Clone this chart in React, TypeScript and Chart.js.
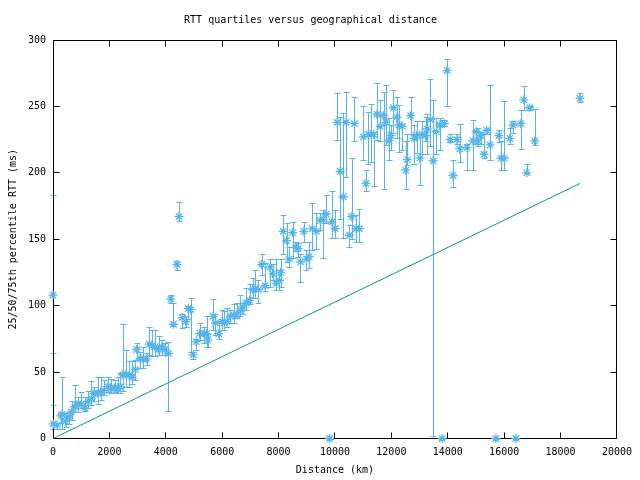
import React, { useEffect, useRef } from "react";
import { Chart, registerables } from "chart.js";

Chart.register(...registerables);

// Distance (km) of each measured host pair
const distanceKm = [
  0, 12, 150, 280, 330, 445, 563, 658, 774, 891,
  1010, 1126, 1243, 1362, 1454, 1595, 1690, 1806, 1947, 2042,
  2182, 2300, 2383, 2476, 2594, 2710, 2805, 2922, 2968, 3086,
  3203, 3320, 3414, 3509, 3626, 3742, 3861, 3978, 4094, 4178,
  4270, 4400, 4470, 4587, 4706, 4798, 4882, 4974, 5079, 5200,
  5350, 5445, 5491, 5678, 5762, 5878, 5994, 6079, 6171, 6290,
  6406, 6523, 6642, 6734, 6853, 6970, 7086, 7170, 7286, 7403,
  7522, 7698, 7790, 7909, 8026, 8072, 8166, 8283, 8378, 8494,
  8614, 8694, 8776, 8895, 8987, 9082, 9198, 9339, 9480, 9574,
  9690, 9810, 9891, 10008, 10080, 10185, 10290, 10395, 10513, 10596,
  10690, 10747, 10867, 11007, 11100, 11183, 11276, 11370, 11487, 11605,
  11722, 11803, 11922, 11979, 12074, 12190, 12275, 12390, 12508, 12566,
  12683, 12802, 12894, 13013, 13094, 13211, 13270, 13387, 13482, 13598,
  13717, 13800, 13880, 13974, 14090, 14186, 14326, 14421, 14680, 14890,
  15006, 15066, 15170, 15288, 15382, 15498, 15710, 15815, 15886, 16005,
  16202, 16322, 16414, 16590, 16695, 16800, 16906, 17082, 18691,
];

// 25th percentile RTT (ms)
const q1Ms = [
  64, 7, 7, 12, 7, 9, 11, 14, 20, 20,
  23, 21, 23, 25, 28, 26, 29, 33, 35, 34,
  35, 34, 34, 36, 39, 39, 41, 44, 59, 53,
  53, 55, 63, 62, 62, 63, 63, 63, 21, 102,
  85, 127, 164, 83, 84, 90, 65, 60, 67, 74,
  72, 69, 69, 82, 78, 75, 82, 82, 84, 87,
  87, 91, 92, 94, 97, 101, 106, 106, 102, 123,
  111, 114, 119, 112, 112, 114, 139, 133, 129, 136,
  141, 137, 118, 148, 127, 128, 142, 143, 157, 136,
  162, 0, 151, 151, 225, 165, 151, 197, 144, 150,
  224, 148, 148, 210, 186, 207, 208, 190, 225, 224,
  188, 221, 210, 217, 230, 226, 216, 217, 188, 206,
  229, 207, 215, 191, 214, 224, 214, 220, 2, 214,
  217, 0, 235, 250, 223, 189, 222, 208, 202, 202,
  222, 220, 222, 211, 229, 210, 0, 223, 202, 202,
  222, 230, 0, 218, 247, 200, 247, 221, 253,
];

// 50th percentile (median) RTT (ms)
const medianMs = [
  108, 11, 10, 17, 18, 13, 16, 20, 24, 26,
  26, 23, 28, 30, 34, 34, 35, 36, 39, 38,
  38, 37, 39, 48, 48, 48, 46, 52, 67, 60,
  60, 60, 71, 70, 69, 67, 69, 67, 64, 105,
  86, 131, 167, 91, 88, 98, 97, 63, 73, 79,
  79, 79, 74, 92, 87, 79, 88, 87, 88, 92,
  93, 93, 96, 99, 102, 104, 112, 113, 112, 131,
  115, 129, 124, 117, 119, 125, 156, 149, 135, 155,
  144, 143, 133, 156, 135, 137, 158, 156, 164, 165,
  169, 0, 163, 158, 238, 201, 182, 238, 153, 167,
  237, 158, 158, 227, 192, 229, 229, 229, 244, 235,
  243, 238, 224, 228, 249, 242, 236, 235, 202, 210,
  243, 226, 228, 211, 229, 228, 233, 240, 209, 231,
  236, 0, 237, 277, 225, 198, 225, 218, 219, 224,
  231, 224, 228, 214, 232, 221, 0, 228, 211, 211,
  226, 236, 0, 237, 255, 200, 249, 224, 256,
];

// 75th percentile RTT (ms)
const q3Ms = [
  183, 25, 12, 20, 46, 19, 20, 28, 40, 31,
  35, 31, 36, 43, 39, 46, 46, 44, 46, 45,
  44, 46, 49, 86, 67, 58, 58, 59, 72, 65,
  69, 64, 84, 82, 82, 77, 74, 72, 73, 108,
  102, 134, 178, 94, 92, 100, 106, 65, 75, 87,
  84, 92, 79, 105, 94, 87, 97, 96, 98, 97,
  101, 102, 108, 102, 113, 116, 121, 127, 119, 139,
  132, 135, 131, 135, 127, 135, 168, 162, 144, 163,
  148, 147, 139, 163, 142, 148, 177, 170, 170, 172,
  183, 0, 186, 172, 260, 242, 245, 261, 161, 211,
  257, 168, 173, 250, 202, 246, 252, 231, 268, 255,
  261, 266, 241, 236, 262, 257, 251, 237, 224, 229,
  257, 236, 239, 229, 239, 242, 244, 271, 255, 241,
  241, 0, 240, 286, 229, 210, 229, 237, 222, 240,
  232, 234, 231, 229, 233, 266, 0, 232, 224, 254,
  234, 239, 0, 247, 265, 207, 250, 248, 260,
];

// Reference line (propagation lower bound)
const boundLineKm = [0, 18691];
const boundLineMs = [0, 192];

const xTickValues = [0, 2000, 4000, 6000, 8000, 10000, 12000, 14000, 16000, 18000, 20000];
const yTickValues = [0, 50, 100, 150, 200, 250, 300];

const BLUE = "#56B4E9";
const GREEN = "#009E73";
const FONT = "'DejaVu Sans Mono', 'Liberation Mono', monospace";

const errorBarsPlugin = {
  id: "errorBars",
  beforeDraw(chart: any) {
    const { ctx, scales } = chart;
    const x = scales.x;
    const y = scales.y;
    ctx.save();
    ctx.strokeStyle = BLUE;
    ctx.lineWidth = 1;
    ctx.beginPath();
    for (let i = 0; i < distanceKm.length; i++) {
      const px = Math.round(x.getPixelForValue(distanceKm[i])) + 0.5;
      const lo = Math.round(y.getPixelForValue(q1Ms[i])) + 0.5;
      const hi = Math.round(y.getPixelForValue(q3Ms[i])) + 0.5;
      ctx.moveTo(px, lo);
      ctx.lineTo(px, hi);
      ctx.moveTo(px - 3, lo);
      ctx.lineTo(px + 3, lo);
      ctx.moveTo(px - 3, hi);
      ctx.lineTo(px + 3, hi);
    }
    ctx.stroke();
    ctx.restore();
  },
};

const framePlugin = {
  id: "frame",
  beforeDatasetsDraw(chart: any) {
    const { ctx, chartArea, scales } = chart;
    const L = Math.floor(chartArea.left) + 0.5;
    const R = Math.floor(chartArea.right) + 0.5;
    const T = Math.floor(chartArea.top) + 0.5;
    const B = Math.floor(chartArea.bottom) + 0.5;
    const len = 6;
    ctx.save();
    ctx.strokeStyle = "#000";
    ctx.lineWidth = 1;
    ctx.beginPath();
    ctx.rect(L, T, R - L, B - T);
    for (const v of xTickValues) {
      const px = Math.floor(scales.x.getPixelForValue(v)) + 0.5;
      ctx.moveTo(px, B);
      ctx.lineTo(px, B - len);
      ctx.moveTo(px, T);
      ctx.lineTo(px, T + len);
    }
    for (const v of yTickValues) {
      const py = Math.floor(scales.y.getPixelForValue(v)) + 0.5;
      ctx.moveTo(L, py);
      ctx.lineTo(L + len, py);
      ctx.moveTo(R, py);
      ctx.lineTo(R - len, py);
    }
    ctx.stroke();
    ctx.restore();
  },
};

export default function App() {
  const canvasRef = useRef<HTMLCanvasElement | null>(null);

  useEffect(() => {
    const canvas = canvasRef.current;
    if (!canvas) return;
    const font = { family: FONT, size: 10, weight: "normal" as const };
    const chart = new Chart(canvas, {
      type: "scatter",
      data: {
        datasets: [
          {
            type: "line",
            label: "bound",
            data: boundLineKm.map((d, i) => ({ x: d, y: boundLineMs[i] })),
            borderColor: GREEN,
            borderWidth: 1,
            pointRadius: 0,
            fill: false,
            clip: false as any,
          },
          {
            type: "scatter",
            label: "median",
            data: distanceKm.map((d, i) => ({ x: d, y: medianMs[i] })),
            pointStyle: "star",
            pointRadius: 4.5,
            borderColor: BLUE,
            backgroundColor: BLUE,
            borderWidth: 1.3,
            clip: false as any,
          },
        ],
      },
      options: {
        responsive: false,
        animation: false,
        devicePixelRatio: 1,
        layout: { padding: { left: 0, right: 19, top: 0, bottom: 0 } },
        plugins: {
          legend: { display: false },
          tooltip: { enabled: false },
          title: {
            display: true,
            text: "RTT quartiles versus geographical distance",
            color: "#000",
            font,
            padding: { top: 14, bottom: 14 },
          },
        },
        scales: {
          x: {
            type: "linear",
            min: 0,
            max: 20000,
            grid: { display: false, drawTicks: false },
            border: { display: false },
            ticks: {
              stepSize: 2000,
              autoSkip: false,
              maxRotation: 0,
              color: "#000",
              font,
              padding: 8,
              callback: (v: any) => String(v),
            },
            title: {
              display: true,
              text: "Distance (km)",
              color: "#000",
              font,
              padding: { top: 0, bottom: 4 },
            },
            afterFit(scale: any) {
              scale.height = 41.5;
            },
          },
          y: {
            type: "linear",
            min: 0,
            max: 300,
            grid: { display: false, drawTicks: false },
            border: { display: false },
            ticks: {
              stepSize: 50,
              autoSkip: false,
              color: "#000",
              font,
              padding: 7,
              callback: (v: any) => String(v),
            },
            title: {
              display: true,
              text: "25/50/75th percentile RTT (ms)",
              color: "#000",
              font,
              padding: { top: 7, bottom: 0 },
            },
            afterFit(scale: any) {
              scale.width = 53;
            },
          },
        },
      },
      plugins: [errorBarsPlugin, framePlugin],
    } as any);
    return () => chart.destroy();
  }, []);

  return (
    <div style={{ position: "absolute", left: 0, top: 0, width: 640, height: 480, background: "#fff" }}>
      <canvas ref={canvasRef} width={640} height={480} style={{ display: "block", width: 640, height: 480 }} />
    </div>
  );
}
